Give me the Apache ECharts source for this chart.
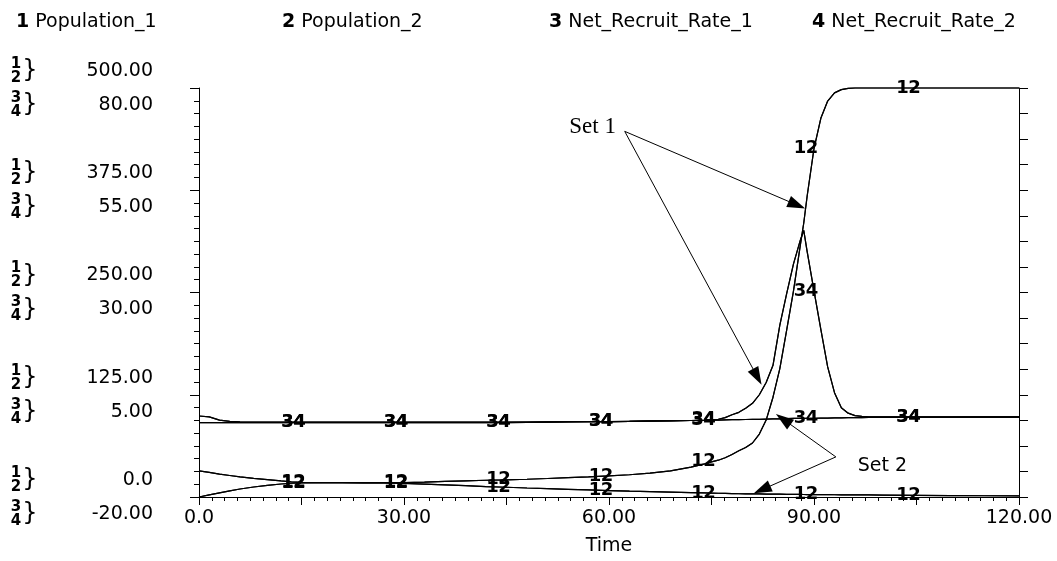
<!DOCTYPE html>
<html>
<head>
<meta charset="utf-8">
<script src="https://cdn.jsdelivr.net/npm/echarts@6/dist/echarts.min.js"></script>
<style>
  html, body { margin: 0; padding: 0; background: #fff; }
  #chart { width: 1057px; height: 561px; }
</style>
</head>
<body>
<div id="chart"></div>
<script>
// Simulation output: two runs (Set 1 grows, Set 2 dies out), each with four variables.
const times = [0, 1.5, 3, 4.5, 6, 8, 10, 12, 13.5, 15,
  18, 21, 24, 27, 30, 33, 36, 39, 42, 45,
  48, 51, 54, 57, 60, 63, 66, 69, 72, 74,
  75, 76, 77, 78, 79, 80, 81, 82, 83, 84,
  85, 86, 87, 88, 88.5, 89, 90, 91, 92, 93,
  94, 95, 96, 97, 98, 100, 105, 110, 115, 120];

const set1Population = [32, 30, 28, 26.3, 24.6, 22.8, 21.2, 19.6, 18.6, 18,
  17.6, 17.5, 17.5, 17.5, 17.6, 18.2, 19, 19.8, 20.5, 21,
  21.7, 22.6, 23.6, 24.6, 25.8, 27.2, 29.2, 32, 36.5, 40.5,
  43, 45, 48, 52, 56.5, 60.5, 66, 77, 94, 122,
  157, 204, 252, 308, 335, 368, 426, 463, 484, 494,
  498, 499.5, 500, 500, 500, 500, 500, 500, 500, 500];

const set2Population = [0, 2.5, 5, 7.4, 9.8, 12.2, 14.3, 15.9, 16.8, 17.2,
  17.4, 17.4, 17.3, 17.1, 16.6, 15.8, 14.8, 13.8, 12.8, 11.9,
  11, 10.2, 9.4, 8.6, 7.9, 7.2, 6.6, 6, 5.4, 5,
  4.8, 4.6, 4.4, 4.2, 4, 3.9, 3.8, 3.7, 3.6, 3.5,
  3.4, 3.3, 3.2, 3.1, 3.05, 3, 2.9, 2.85, 2.8, 2.75,
  2.7, 2.65, 2.6, 2.55, 2.5, 2.4, 2.1, 1.8, 1.5, 1.3];

const set1RecruitRate = [-0.2, -0.4, -1.2, -1.5, -1.6, -1.7, -1.7, -1.7, -1.7, -1.7,
  -1.7, -1.7, -1.7, -1.7, -1.7, -1.7, -1.7, -1.7, -1.7, -1.7,
  -1.7, -1.65, -1.6, -1.6, -1.55, -1.5, -1.45, -1.4, -1.3, -1.2,
  -1.1, -1.0, -0.6, 0.1, 0.7, 1.7, 2.9, 5.0, 8.0, 12.2,
  22, 29.7, 37, 42.8, 45.2, 40, 30.4, 21, 11.8, 5.5,
  1.8, 0.5, -0.1, -0.3, -0.4, -0.4, -0.4, -0.4, -0.4, -0.4];

const set2RecruitRate = [-1.8, -1.8, -1.8, -1.8, -1.8, -1.8, -1.8, -1.8, -1.8, -1.8,
  -1.8, -1.8, -1.8, -1.8, -1.8, -1.8, -1.8, -1.8, -1.8, -1.8,
  -1.75, -1.7, -1.65, -1.6, -1.55, -1.5, -1.4, -1.35, -1.3, -1.25,
  -1.2, -1.2, -1.15, -1.1, -1.1, -1.05, -1.0, -1.0, -0.95, -0.9,
  -0.9, -0.85, -0.8, -0.8, -0.8, -0.75, -0.75, -0.7, -0.7, -0.65,
  -0.65, -0.6, -0.6, -0.6, -0.55, -0.55, -0.5, -0.5, -0.45, -0.45];

const seriesNames = ['Population_1', 'Population_2', 'Net_Recruit_Rate_1', 'Net_Recruit_Rate_2'];
const curveNumbers = ['1', '2', '3', '4'];
// times at which each curve carries its number tag
const labelTimes = [15, 30, 45, 60, 75, 90, 105];

const xTickValues = [0, 30, 60, 90, 120];
const xTickLabels = ['0.0', '30.00', '60.00', '90.00', '120.00'];
const popTickValues = [0, 125, 250, 375, 500];
const popTickLabels = ['0.0', '125.00', '250.00', '375.00', '500.00'];
const rateTickLabels = ['-20.00', '5.00', '30.00', '55.00', '80.00'];

// callouts, in (time, population) coordinates
const setNames = ['Set 1', 'Set 2'];
const setTextAnchors = [[57.6, 452], [100, 38]];
const set1ArrowFrom = [62.3, 447];
const set1ArrowTips = [[87.5, 357], [81.7, 147]];
const set2ArrowFrom = [93.2, 49];
const set2ArrowTips = [[85.5, 95], [82.4, 9]];

const FONT = 'DejaVu Sans';
const legendLefts = [5, 271, 538, 801];
const tagOffsets = [-14, -2, -14, -2];

function curve(idx, values, withArrows) {
  const isRate = idx >= 2;
  const s = {
    type: 'line',
    name: seriesNames[idx],
    yAxisIndex: isRate ? 1 : 0,
    silent: true,
    clip: false,
    symbol: 'circle',
    symbolSize: 0,
    showSymbol: true,
    showAllSymbol: true,
    lineStyle: { color: '#000', width: 1.2 },
    itemStyle: { color: '#000' },
    emphasis: { disabled: true },
    label: {
      show: false,
      position: 'inside',
      formatter: curveNumbers[idx],
      offset: [tagOffsets[idx], 0],
      color: '#000',
      fontFamily: FONT,
      fontWeight: 'bold',
      fontSize: 18
    },
    data: times.map((t, i) => labelTimes.includes(t)
      ? { value: [t, values[i]], label: { show: true } }
      : [t, values[i]]),
    z: 3
  };
  if (withArrows) {
    s.markLine = {
      silent: true,
      symbol: ['none', 'triangle'],
      symbolSize: [12, 18],
      label: { show: false },
      lineStyle: { color: '#000', width: 1, type: 'solid' },
      itemStyle: { color: '#000' },
      emphasis: { disabled: true },
      data: [
        ...set1ArrowTips.map(tip => [{ coord: set1ArrowFrom }, { coord: tip }]),
        ...set2ArrowTips.map(tip => [{ coord: set2ArrowFrom }, { coord: tip }])
      ]
    };
  }
  return s;
}

const series = [
  curve(0, set1Population, true), curve(1, set1Population),
  curve(2, set1RecruitRate), curve(3, set1RecruitRate),
  curve(0, set2Population), curve(1, set2Population),
  curve(2, set2RecruitRate), curve(3, set2RecruitRate)
];

const textBase = { color: '#000', fontFamily: FONT, fontSize: 19 };
const black = { color: '#000', width: 1 };

const chart = echarts.init(document.getElementById('chart'), null, { renderer: 'canvas' });
chart.setOption({
  animation: false,
  backgroundColor: '#fff',
  grid: { left: 199, right: 38, top: 88, bottom: 64, containLabel: false },
  legend: seriesNames.map((name, i) => ({
    data: [name],
    left: legendLefts[i],
    top: 8,
    itemWidth: 0,
    itemHeight: 0,
    selectedMode: false,
    formatter: n => '{n|' + curveNumbers[i] + '} ' + n,
    textStyle: Object.assign({}, textBase, {
      rich: { n: { fontFamily: FONT, fontSize: 19, fontWeight: 'bold', color: '#000' } }
    })
  })),
  xAxis: {
    type: 'value', min: 0, max: 120, interval: 15,
    axisLine: { show: true, onZero: false, lineStyle: black },
    axisTick: { show: true, inside: false, length: 8, lineStyle: black },
    minorTick: { show: true, splitNumber: 8, length: 4, lineStyle: black },
    splitLine: { show: false },
    axisLabel: Object.assign({}, textBase, {
      margin: 12,
      showMinLabel: true, showMaxLabel: true,
      formatter: v => { const i = xTickValues.indexOf(v); return i < 0 ? '' : xTickLabels[i]; }
    }),
    name: 'Time', nameLocation: 'middle', nameGap: 40,
    nameTextStyle: textBase
  },
  yAxis: [
    {
      type: 'value', min: 0, max: 500, interval: 125, position: 'left',
      axisLine: { show: true, onZero: false, lineStyle: black },
      axisTick: { show: true, inside: false, length: 9, lineStyle: black },
      minorTick: { show: true, splitNumber: 8, length: 5, lineStyle: black },
      splitLine: { show: false },
      axisLabel: {
        margin: 46, align: 'right',
        formatter: v => {
          const i = popTickValues.indexOf(v);
          return '{p|' + popTickLabels[i] + '}\n{r|' + rateTickLabels[i] + '}';
        },
        rich: {
          p: Object.assign({}, textBase, { lineHeight: 34, align: 'right' }),
          r: Object.assign({}, textBase, { lineHeight: 34, align: 'right' })
        }
      }
    },
    { type: 'value', min: -20, max: 80, show: false },
    {
      type: 'value', min: 0, max: 500, interval: 125, position: 'right',
      axisLine: { show: true, onZero: false, lineStyle: black },
      axisTick: { show: true, inside: false, length: 9, lineStyle: black },
      minorTick: { show: true, splitNumber: 4, length: 9, lineStyle: black },
      splitLine: { show: false },
      axisLabel: { show: false }
    }
  ],
  series: series
});

// Curve-number braces beside each left tick, and the Set callout texts.
const graphics = [];
popTickValues.forEach(v => {
  const y = chart.convertToPixel({ yAxisIndex: 0 }, v);
  [[-17, '1\n2'], [17, '3\n4']].forEach(([dy, txt]) => {
    graphics.push({
      type: 'text', x: 16, y: y + dy, silent: true,
      style: {
        text: txt, fill: '#000', font: 'bold 15px "DejaVu Sans"', lineHeight: 14,
        align: 'center', verticalAlign: 'middle', textAlign: 'center', textVerticalAlign: 'middle'
      }
    });
    graphics.push({
      type: 'text', x: 30, y: y + dy, silent: true,
      style: {
        text: '}', fill: '#000', font: '24px "DejaVu Sans"',
        align: 'center', verticalAlign: 'middle', textAlign: 'center', textVerticalAlign: 'middle'
      }
    });
  });
});
setNames.forEach((name, i) => {
  const p = chart.convertToPixel({ xAxisIndex: 0, yAxisIndex: 0 }, setTextAnchors[i]);
  graphics.push({
    type: 'text', x: p[0], y: p[1], silent: true,
    style: {
      text: name, fill: '#000',
      font: i === 0 ? '23px "Liberation Serif"' : '19px "DejaVu Sans"',
      align: 'center', verticalAlign: 'middle', textAlign: 'center', textVerticalAlign: 'middle'
    }
  });
});
chart.setOption({ graphic: graphics });
</script>
</body>
</html>
